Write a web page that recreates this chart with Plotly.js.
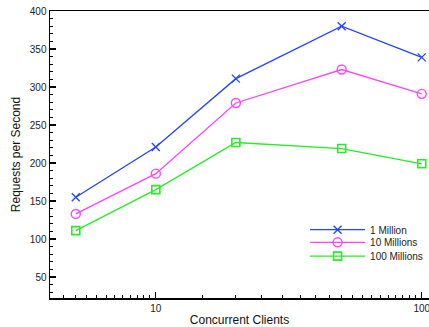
<!DOCTYPE html>
<html><head><meta charset="utf-8">
<script src="https://cdn.plot.ly/plotly-3.0.1.min.js"></script>
<style>html,body{margin:0;padding:0;background:#fff}#c{width:429px;height:327px}</style>
</head><body><div id="c"></div>
<script>
const clients = [5, 10, 20, 50, 100];
const series1M = [155, 221, 311, 380, 339];
const series10M = [133, 186, 279, 323, 291];
const series100M = [111, 165, 227, 219, 199];
const seriesNames = ["1 Million", "10 Millions", "100 Millions"];
const xTickVals = [10, 100];
const xTickText = ["10", "100"];

const minorX = [];
for (let v = 4.5; v < 10; v += 0.5) minorX.push(v);
for (let v = 15; v < 100; v += 5) minorX.push(v);

const traces = [
  {x: clients, y: series1M, name: seriesNames[0], mode: "lines+markers", legend: "legend",
   line: {color: "#2244ff", width: 1.3},
   marker: {symbol: "x-thin-open", size: 8, color: "#2244ff", line: {color: "#2244ff", width: 1.3}}},
  {x: clients, y: series10M, name: seriesNames[1], mode: "lines+markers", legend: "legend2",
   line: {color: "#ff44ff", width: 1.3},
   marker: {symbol: "circle-open", size: 9, color: "#ff44ff", line: {color: "#ff44ff", width: 1.4}}},
  {x: clients, y: series100M, name: seriesNames[2], mode: "lines+markers", legend: "legend3",
   line: {color: "#22ee22", width: 1.3},
   marker: {symbol: "square-open", size: 8, color: "#22ee22", line: {color: "#22ee22", width: 1.6}}}
];

function leg(y) {
  return {x: 0.673, y: y, xanchor: "left", yanchor: "middle", bgcolor: "rgba(0,0,0,0)",
          font: {size: 10, color: "#222"}, itemwidth: 55};
}

const layout = {
  width: 429, height: 327,
  margin: {l: 50, r: 0, t: 11, b: 29, autoexpand: false},
  paper_bgcolor: "#fff", plot_bgcolor: "#fff",
  font: {family: "Liberation Sans, Arial, sans-serif", size: 10, color: "#222"},
  showlegend: true,
  legend: leg(0.238), legend2: leg(0.194), legend3: leg(0.146),
  xaxis: {type: "log", range: [Math.log10(4), Math.log10(106.5)], automargin: false,
          showline: true, linecolor: "#000", linewidth: 1.5, mirror: true,
          showgrid: false, zeroline: false,
          tickmode: "array", tickvals: xTickVals, ticktext: xTickText,
          ticks: "inside", ticklen: 6, tickwidth: 1.2, tickcolor: "#000",
          ticklabeloverflow: "allow",
          minor: {tickmode: "array", tickvals: minorX, ticks: "inside", ticklen: 3, tickwidth: 1, tickcolor: "#000", showgrid: false},
          title: {text: "Concurrent Clients", font: {size: 12, color: "#111"}, standoff: 4}},
  yaxis: {range: [22.4, 400], showline: true, linecolor: "#000", linewidth: 1.5, automargin: false,
          showgrid: false, zeroline: false,
          tickmode: "linear", tick0: 0, dtick: 50,
          ticks: "inside", ticklen: 6, tickwidth: 1.2, tickcolor: "#000",
          minor: {dtick: 10, ticks: "inside", ticklen: 3, tickwidth: 1, tickcolor: "#000", showgrid: false},
          title: {text: "Requests per Second", font: {size: 12, color: "#111"}, standoff: 6}}
};

Plotly.newPlot("c", traces, layout, {displayModeBar: false, staticPlot: true});
</script></body></html>
